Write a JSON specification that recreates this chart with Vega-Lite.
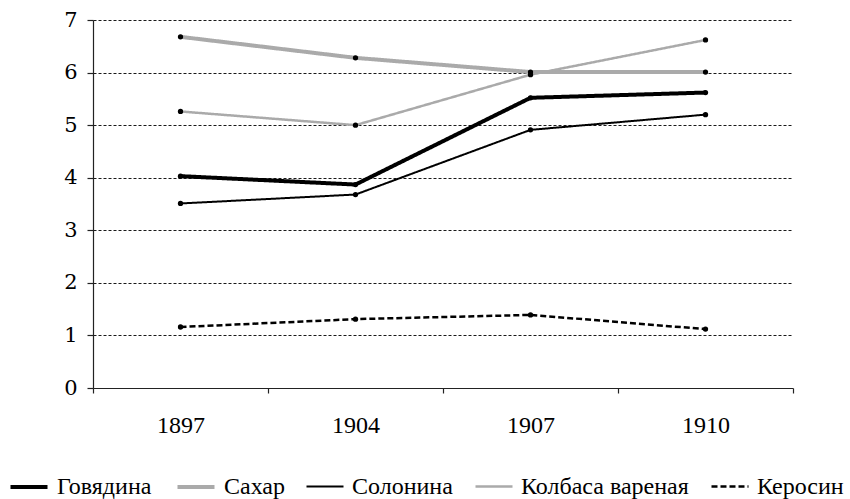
{
  "$schema": "https://vega.github.io/schema/vega-lite/v6.json",
  "width": 700,
  "height": 368,
  "autosize": {"type": "none"},
  "padding": {"left": 93, "top": 20, "right": 57, "bottom": 111},
  "background": "white",
  "config": {
    "view": {"stroke": null},
    "axis": {"labelColor": "black", "domainColor": "#222", "tickColor": "#222", "domainWidth": 1.2, "tickWidth": 1.2}
  },
  "data": {
    "values": [
      {"year": "1897", "series": "Говядина", "value": 4.03},
      {"year": "1904", "series": "Говядина", "value": 3.87},
      {"year": "1907", "series": "Говядина", "value": 5.52},
      {"year": "1910", "series": "Говядина", "value": 5.62},
      {"year": "1897", "series": "Сахар", "value": 6.68},
      {"year": "1904", "series": "Сахар", "value": 6.28},
      {"year": "1907", "series": "Сахар", "value": 6.01},
      {"year": "1910", "series": "Сахар", "value": 6.01},
      {"year": "1897", "series": "Солонина", "value": 3.51},
      {"year": "1904", "series": "Солонина", "value": 3.68},
      {"year": "1907", "series": "Солонина", "value": 4.91},
      {"year": "1910", "series": "Солонина", "value": 5.2},
      {"year": "1897", "series": "Колбаса вареная", "value": 5.26},
      {"year": "1904", "series": "Колбаса вареная", "value": 5.0},
      {"year": "1907", "series": "Колбаса вареная", "value": 5.96},
      {"year": "1910", "series": "Колбаса вареная", "value": 6.62},
      {"year": "1897", "series": "Керосин", "value": 1.16},
      {"year": "1904", "series": "Керосин", "value": 1.31},
      {"year": "1907", "series": "Керосин", "value": 1.39},
      {"year": "1910", "series": "Керосин", "value": 1.12}
    ]
  },
  "encoding": {
    "x": {
      "field": "year", "type": "ordinal", "title": null,
      "scale": {"type": "band", "paddingInner": 0, "paddingOuter": 0},
      "axis": {"labelAngle": 0, "labelFont": "Liberation Serif", "labelFontSize": 24, "labelPadding": 20, "tickSize": 5, "tickBand": "extent", "grid": false}
    },
    "y": {
      "field": "value", "type": "quantitative", "title": null,
      "scale": {"domain": [0, 7], "nice": false, "zero": true},
      "axis": {"values": [0, 1, 2, 3, 4, 5, 6, 7], "labelFont": "DejaVu Serif", "labelFontSize": 21, "labelPadding": 10, "tickSize": 6, "grid": true, "gridColor": "black", "gridDash": [3, 2], "gridWidth": 1, "gridOpacity": 0.9}
    }
  },
  "layer": [
    {
      "mark": {"type": "line", "strokeCap": "butt"},
      "encoding": {
        "color": {
          "field": "series", "type": "nominal",
          "scale": {"domain": ["Говядина", "Сахар", "Солонина", "Колбаса вареная", "Керосин"], "range": ["#000000", "#aaaaaa", "#000000", "#aaaaaa", "#000000"]},
          "legend": {
            "orient": "none", "direction": "horizontal", "legendX": -85, "legendY": 446,
            "title": null, "symbolType": "stroke", "symbolSize": 1370,
            "labelFont": "Liberation Serif", "labelFontSize": 24, "labelColor": "black",
            "labelOffset": 7, "columnPadding": 17, "labelLimit": 300
          }
        },
        "strokeWidth": {
          "field": "series", "type": "nominal",
          "scale": {"type": "ordinal", "domain": ["Говядина", "Сахар", "Солонина", "Колбаса вареная", "Керосин"], "range": [4, 4, 2, 2.5, 2.5]},
          "legend": {
            "orient": "none", "direction": "horizontal", "legendX": -85, "legendY": 446,
            "title": null, "symbolType": "stroke", "symbolSize": 1370,
            "labelFont": "Liberation Serif", "labelFontSize": 24, "labelColor": "black",
            "labelOffset": 7, "columnPadding": 17, "labelLimit": 300
          }
        },
        "strokeDash": {
          "field": "series", "type": "nominal",
          "scale": {"domain": ["Говядина", "Сахар", "Солонина", "Колбаса вареная", "Керосин"], "range": [[1, 0], [1, 0], [1, 0], [1, 0], [6, 3]]},
          "legend": {
            "orient": "none", "direction": "horizontal", "legendX": -85, "legendY": 446,
            "title": null, "symbolType": "stroke", "symbolSize": 1370,
            "labelFont": "Liberation Serif", "labelFontSize": 24, "labelColor": "black",
            "labelOffset": 7, "columnPadding": 17, "labelLimit": 300
          }
        },
        "order": {"field": "year"}
      }
    },
    {
      "mark": {"type": "point", "filled": true, "color": "black", "size": 28, "opacity": 1}
    }
  ]
}
